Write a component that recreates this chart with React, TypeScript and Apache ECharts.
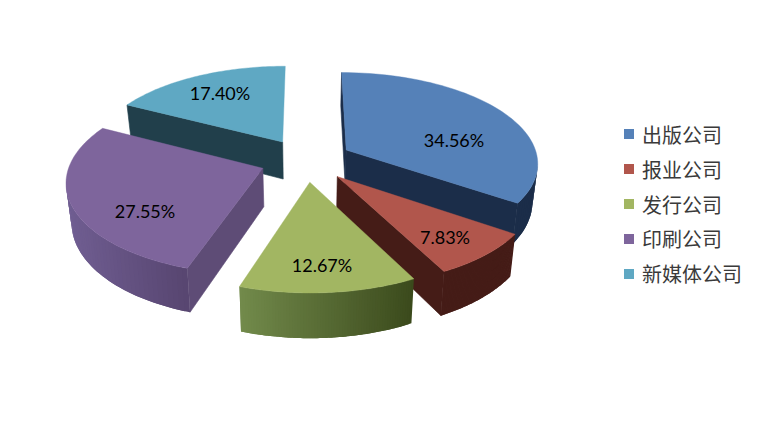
import React, { useEffect, useRef } from "react";
import * as echarts from "echarts";

const categories = ["出版公司", "报业公司", "发行公司", "印刷公司", "新媒体公司"];
const shares = [34.56, 7.83, 12.67, 27.55, 17.4];

const topColors = ["#5581b8", "#b1564c", "#a2b662", "#7e659c", "#5fa8c3"];
const wallLeft = ["#1b2d49", "#451c17", "#728a4b", "#705e92", "#213f4b"];
const wallRight = ["#1b2d49", "#451c17", "#3b4a1c", "#574570", "#213f4b"];
const radialWall = ["#1b2d49", "#451c17", "#4f5f2e", "#5e4c76", "#213f4b"];
const labelAnchors = [[454, 140], [445, 237], [322, 265], [145, 211], [220, 93]];
const drawOrder = [4, 0, 3, 1, 2];

// Projection of the exploded pie
const CX = 306, CY = 160, RX = 192, RY = 90, PERSP = 0.13, EXPLODE = 0.24, DEPTH = 38, BOTTOM_X = 0.977;

const total = shares.reduce((a, b) => a + b, 0);

function project(X: number, Y: number): [number, number] {
  const f = 1 / (1 - PERSP * Y);
  return [CX + RX * X * f, CY + RY * Y * f];
}
function lower(X: number, Y: number): [number, number] {
  const f = 1 / (1 - PERSP * Y);
  const p = project(X, Y);
  return [CX + (p[0] - CX) * BOTTOM_X, p[1] + DEPTH * f];
}

function sliceStart(i: number) {
  let a = 0;
  for (let k = 0; k < i; k++) a += shares[k];
  return (a / total) * Math.PI * 2;
}

function hexRgb(h: string) {
  return [parseInt(h.slice(1, 3), 16), parseInt(h.slice(3, 5), 16), parseInt(h.slice(5, 7), 16)];
}
function mix(a: string, b: string, t: number) {
  const A = hexRgb(a), B = hexRgb(b);
  const c = A.map((v, k) => Math.round(v + (B[k] - v) * t));
  return `rgb(${c[0]},${c[1]},${c[2]})`;
}

function makeRender(i: number) {
  return (_params: any, api: any) => {
    const value = api.value(0) as number;
    const a0 = sliceStart(i);
    const a1 = a0 + (value / total) * Math.PI * 2;
    const mid = (a0 + a1) / 2;
    const ax = EXPLODE * Math.sin(mid);
    const ay = -EXPLODE * Math.cos(mid);
    const rim: [number, number][] = [];
    const steps = 64;
    for (let s = 0; s <= steps; s++) {
      const t = a0 + ((a1 - a0) * s) / steps;
      rim.push([ax + Math.sin(t), ay - Math.cos(t)]);
    }
    const topRim = rim.map((p) => project(p[0], p[1]));
    const lowRim = rim.map((p) => lower(p[0], p[1]));
    const apexTop = project(ax, ay);
    const apexLow = lower(ax, ay);
    const poly = (pts: [number, number][], fill: string, sw = 0) => ({
      type: "polygon",
      shape: { points: pts },
      style: sw > 0 ? { fill, stroke: fill, lineWidth: sw } : { fill, stroke: null },
    });
    const xs = topRim.map((p) => p[0]);
    const minX = Math.min(...xs);
    const maxX = Math.max(...xs);
    const children: any[] = [];
    // only the walls that face the viewer
    if (Math.sin(a0) <= 0) children.push(poly([apexTop, topRim[0], lowRim[0], apexLow], radialWall[i], 0.6));
    if (Math.sin(a1) > 0) children.push(poly([apexTop, topRim[steps], lowRim[steps], apexLow], radialWall[i], 0.6));
    for (let s = 0; s < steps; s++) {
      if (topRim[s + 1][0] >= topRim[s][0]) continue;
      const t = ((topRim[s][0] + topRim[s + 1][0]) / 2 - minX) / (maxX - minX);
      const e = Math.min(s + 2, steps);
      children.push(
        poly([topRim[s], topRim[s + 1], topRim[e], lowRim[e], lowRim[s + 1], lowRim[s]], mix(wallLeft[i], wallRight[i], t))
      );
    }
    children.push(poly([apexTop, ...topRim], topColors[i], 0.4));
    children.push({
      type: "text",
      style: {
        x: labelAnchors[i][0],
        y: labelAnchors[i][1],
        text: value.toFixed(2) + "%",
        fill: "#000000",
        font: '18px Lato, "Open Sans", sans-serif',
        align: "center",
        verticalAlign: "middle",
      },
    });
    return { type: "group", children };
  };
}

export default function App() {
  const ref = useRef<HTMLDivElement>(null);
  useEffect(() => {
    const chart = echarts.init(ref.current!, null, { renderer: "svg" });
    chart.setOption({
      animation: false,
      backgroundColor: "#ffffff",
      legend: {
        orient: "vertical",
        left: 624,
        top: 124,
        padding: 0,
        icon: "rect",
        itemWidth: 10,
        itemHeight: 10,
        itemGap: 15,
        selectedMode: false,
        data: categories,
        textStyle: {
          fontFamily: '"Noto Sans CJK SC", sans-serif',
          fontSize: 20,
          color: "#3a3a3a",
          padding: [0, 0, 0, 3],
        },
      },
      series: drawOrder.map((i) => ({
        type: "custom",
        name: categories[i],
        coordinateSystem: "none",
        itemStyle: { color: topColors[i] },
        data: [[shares[i]]],
        renderItem: makeRender(i),
        silent: true,
      })),
    });
    return () => chart.dispose();
  }, []);
  return (
    <div
      ref={ref}
      style={{ position: "absolute", left: 0, top: 0, width: 764, height: 436 }}
    />
  );
}
